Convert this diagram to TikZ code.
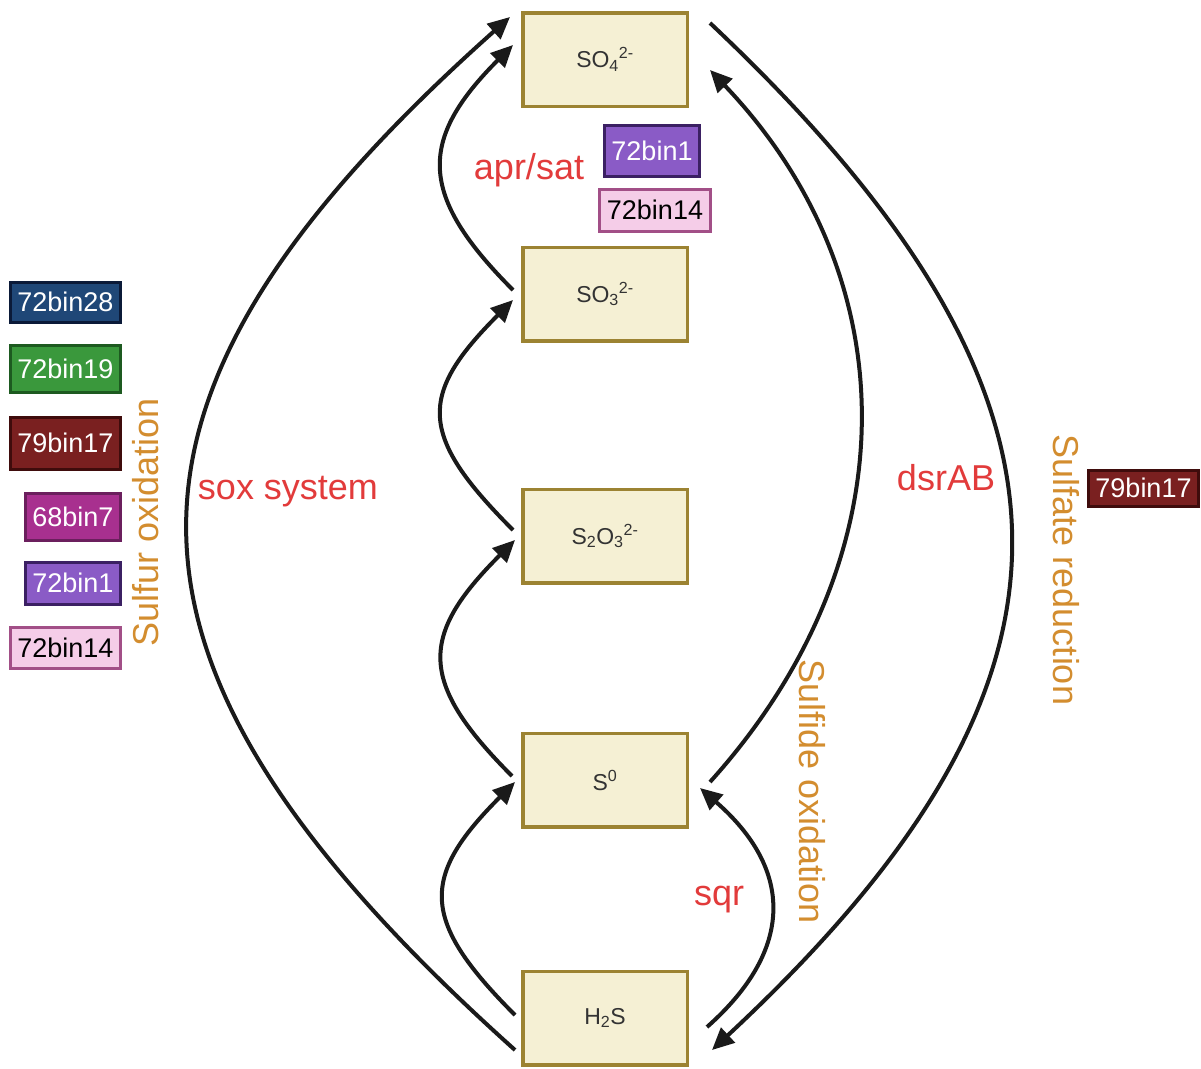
\documentclass[tikz,border=0pt]{standalone}
\usepackage{fontspec}
\setmainfont{Liberation Sans}
\usetikzlibrary{arrows.meta,calc}
\definecolor{boxfill}{HTML}{F5F0D4}
\definecolor{boxline}{HTML}{9C8332}
\definecolor{arrowc}{HTML}{1A1A1A}
\definecolor{redlab}{HTML}{E23B3B}
\definecolor{orlab}{HTML}{D38D2F}
\definecolor{cblueF}{HTML}{1F4777}\definecolor{cblueB}{HTML}{0B1A38}
\definecolor{cgreenF}{HTML}{3A983C}\definecolor{cgreenB}{HTML}{1D5A20}
\definecolor{credF}{HTML}{7A2020}\definecolor{credB}{HTML}{3F0C0C}
\definecolor{cmagF}{HTML}{A8308F}\definecolor{cmagB}{HTML}{6B1F5D}
\definecolor{cpurF}{HTML}{8A5BC6}\definecolor{cpurB}{HTML}{3B2063}
\definecolor{cpinkF}{HTML}{F5CDE8}\definecolor{cpinkB}{HTML}{A24F87}
\begin{document}
\begin{tikzpicture}[x=1pt,y=-1pt,
  species/.style={draw=boxline,fill=boxfill,line width=3.5pt,minimum width=164.5pt,minimum height=93.5pt,
    inner sep=0pt,font=\fontsize{23}{26}\selectfont,text=black!80},
  conn/.style={draw=arrowc,line width=4pt,-{Triangle[length=22pt,width=20pt]}},
  gene/.style={text=redlab,font=\fontsize{36}{40}\selectfont,inner sep=0pt},
  proc/.style={text=orlab,font=\fontsize{36}{40}\selectfont,inner sep=0pt},
  tag/.style={line width=3pt,inner xsep=7pt,inner ysep=0pt,font=\fontsize{27}{30}\selectfont,text=white},
]
\useasboundingbox (0,0) rectangle (1201,1068);
\fill[white] (0,0) rectangle (1201,1068);

% species boxes
\node[species] (so4) at (605,59.5) {SO\textsubscript{4}\textsuperscript{2-}};
\node[species] (so3) at (605,294) {SO\textsubscript{3}\textsuperscript{2-}};
\node[species] (s2o3) at (605,536) {S\textsubscript{2}O\textsubscript{3}\textsuperscript{2-}};
\node[species] (s0) at (605,780) {S\textsuperscript{0}};
\node[species] (h2s) at (605,1018) {H\textsubscript{2}S};

% connectors
\draw[conn] ($(h2s)+(-90,32)$) .. controls +(-435,-390) and +(-430,383) .. ($(so4)+(-95,-42.5)$);
\draw[conn] ($(h2s)+(-90,-3)$) .. controls +(-95,-95) and +(-95,95) .. ($(s0)+(-90,2)$);
\draw[conn] ($(s0)+(-93,-4)$) .. controls +(-95,-95) and +(-95,95) .. ($(s2o3)+(-90,4)$);
\draw[conn] ($(s2o3)+(-92,-6)$) .. controls +(-95,-95) and +(-95,95) .. ($(so3)+(-92,6)$);
\draw[conn] ($(so3)+(-92,-4)$) .. controls +(-95,-95) and +(-95,95) .. ($(so4)+(-92,-14.5)$);
\draw[conn] ($(s0)+(105,2)$) .. controls +(200,-222) and +(200,210) .. ($(so4)+(105,10.5)$);
\draw[conn] ($(h2s)+(102,9)$) .. controls +(87,-77) and +(94,82) .. ($(s0)+(95,8)$);
\draw[conn] ($(so4)+(105,-36.5)$) .. controls +(400,377) and +(398,-370) .. ($(h2s)+(107,32)$);

% labels
\node[gene] (lsox) at (288,492) {sox system};
\node[gene] (lapr) at (529,170) {apr/sat};
\node[gene] (ldsr) at (946,478) {dsrAB};
\node[gene] (lsqr) at (719,900) {sqr};
\node[proc,rotate=90] (lsuox) at (146,522) {Sulfur oxidation};
\node[proc,rotate=-90] (lsiox) at (812,792) {Sulfide oxidation};
\node[proc,rotate=-90] (lsred) at (1066,570) {Sulfate reduction};

% tags
\node[tag,draw=cblueB,fill=cblueF,minimum height=40pt,anchor=east] (t1) at (122,302) {72bin28};
\node[tag,draw=cgreenB,fill=cgreenF,minimum height=47pt,anchor=east] (t2) at (122,368.5) {72bin19};
\node[tag,draw=credB,fill=credF,minimum height=52pt,anchor=east] (t3) at (122,443) {79bin17};
\node[tag,draw=cmagB,fill=cmagF,minimum height=47pt,anchor=east] (t4) at (122,516.5) {68bin7};
\node[tag,draw=cpurB,fill=cpurF,minimum height=42pt,anchor=east] (t5) at (122,583) {72bin1};
\node[tag,draw=cpinkB,fill=cpinkF,minimum height=41pt,anchor=east,text=black] (t6) at (122,647.5) {72bin14};
\node[tag,draw=cpurB,fill=cpurF,minimum height=51pt] (t7) at (652,150.5) {72bin1};
\node[tag,draw=cpinkB,fill=cpinkF,minimum height=42pt,text=black] (t8) at (655,210) {72bin14};
\node[tag,draw=credB,fill=credF,minimum height=36pt] (t9) at (1143.5,488) {79bin17};
\end{tikzpicture}
\end{document}
